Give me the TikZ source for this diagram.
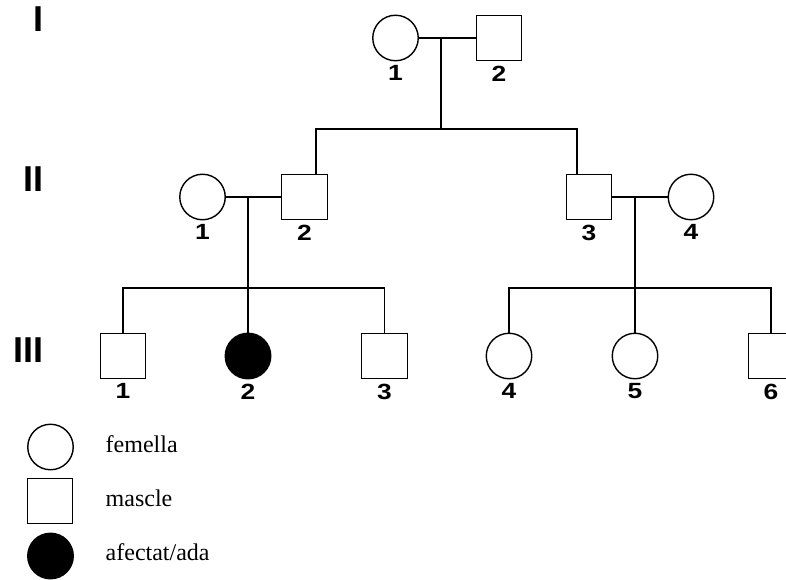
\documentclass[tikz,border=0pt]{standalone}
\usepackage{fontspec}
\setmainfont{Liberation Serif}
\setsansfont{Liberation Sans}
\newcommand\wide[1]{\scalebox{1.2}[1]{#1}}

\begin{document}
\begin{tikzpicture}[x=1pt,y=-1pt,line width=1.4pt,label distance=3.5pt]
\tikzstyle{female}=[circle,draw,fill=white,minimum size=45.5pt,inner sep=0pt]
\tikzstyle{male}=[rectangle,draw,fill=white,minimum size=45.5pt,inner sep=0pt]
\tikzstyle{affected}=[circle,draw,fill=black,minimum size=45.5pt,inner sep=0pt]
\tikzstyle{num}=[font=\fontsize{22}{22}\sffamily\bfseries,inner sep=0pt]
\tikzstyle{gen}=[font=\fontsize{36}{36}\sffamily\bfseries,inner sep=0pt,anchor=base east]
\tikzstyle{key}=[font=\fontsize{24}{24}\selectfont,inner sep=0pt,anchor=base west]

\useasboundingbox (0,0) rectangle (786,580);

\node[gen] (g1) at (44,32) {I};
\node[gen] (g2) at (44,191) {II};
\node[gen] (g3) at (44,362) {III};

% generation I
\node[female,label={[num]below:\wide{1}}] (p11) at (395.5,38) {};
\node[male,label={[num]below:\wide{2}}] (p12) at (499,38) {};

% generation II
\node[female,label={[num]below:\wide{1}}] (p21) at (202.5,197) {};
\node[male,label={[num]below:\wide{2}}] (p22) at (304.5,197) {};
\node[male,label={[num]below:\wide{3}}] (p23) at (589,197) {};
\node[female,label={[num]below:\wide{4}}] (p24) at (691,197) {};

% generation III
\node[male,label={[num]below:\wide{1}}] (p31) at (123,356) {};
\node[affected,label={[num]below:\wide{2}}] (p32) at (248,356) {};
\node[male,label={[num]below:\wide{3}}] (p33) at (384.5,356) {};
\node[female,label={[num]below:\wide{4}}] (p34) at (509,356) {};
\node[female,label={[num]below:\wide{5}}] (p35) at (635,356) {};
\node[male,label={[num]below:\wide{6}}] (p36) at (771,356) {};

\coordinate (c1) at (441,38);
\coordinate (s1) at (441,129);
\coordinate (s1l) at (316,129);
\coordinate (s1r) at (577,129);
\coordinate (c2) at (248,197);
\coordinate (s2) at (248,288);
\coordinate (c3) at (635,197);
\coordinate (s3) at (635,288);

\draw (p11) -- (p12);
\draw (c1) -- (s1);
\draw (s1l |- p22.north) -- (s1l) -- (s1r) -- (s1r |- p23.north);

\draw (p21) -- (p22);
\draw (c2) -- (p32);
\draw (p31) |- (s2) -| (p33);

\draw (p23) -- (p24);
\draw (c3) -- (p35);
\draw (p34) |- (s3) -| (p36);

% legend
\node[female] (l1) at (50.5,447) {};
\node[male] (l2) at (50,501) {};
\node[affected] (l3) at (50.5,556) {};
\node[key] (t1) at (105,452) {femella};
\node[key] (t2) at (105,506) {mascle};
\node[key] (t3) at (105,560) {afectat/ada};

\end{tikzpicture}
\end{document}
